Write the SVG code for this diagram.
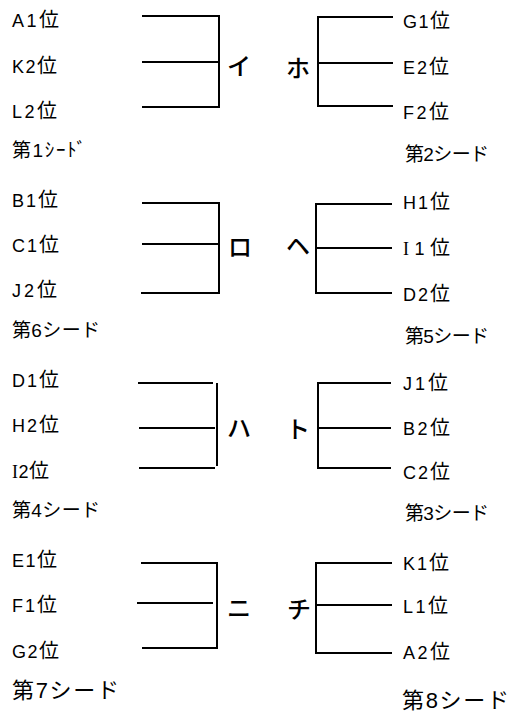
<svg xmlns="http://www.w3.org/2000/svg" width="511" height="718" viewBox="0 0 511 718">
<style>
text{font-family:"Liberation Sans","Noto Sans CJK JP",sans-serif;fill:#000}
.e{font-size:18px}
.k{font-family:"Noto Sans CJK JP",sans-serif;font-size:20px}
.s{font-size:19px}
.big{font-size:22px}
.lab{font-family:"Noto Sans CJK JP",sans-serif;font-size:24px;font-weight:500;text-anchor:middle;dominant-baseline:central}
.serifI{font-family:"Liberation Serif",serif}
#connectors line{stroke:#000;stroke-width:2;stroke-linecap:square}
</style>
<rect width="511" height="718" fill="#fff"/>
<g id="connectors">
<line x1="143" y1="16" x2="219" y2="16"/><line x1="143" y1="62" x2="219" y2="62"/><line x1="143" y1="107" x2="219" y2="107"/><line x1="219" y1="16" x2="219" y2="107"/>
<line x1="143" y1="203" x2="219" y2="203"/><line x1="143" y1="244" x2="219" y2="244"/><line x1="142" y1="293" x2="219" y2="293"/><line x1="219" y1="203" x2="219" y2="293"/>
<line x1="139" y1="383" x2="212" y2="383"/><line x1="140" y1="428" x2="214" y2="428"/><line x1="140" y1="468" x2="214" y2="468"/><line x1="217" y1="384" x2="217" y2="465"/>
<line x1="142" y1="563" x2="217" y2="563"/><line x1="138" y1="603" x2="212" y2="603"/><line x1="143" y1="648" x2="217" y2="648"/><line x1="217" y1="563" x2="217" y2="648"/>
<line x1="318" y1="17" x2="392" y2="17"/><line x1="318" y1="63" x2="392" y2="63"/><line x1="318" y1="106" x2="392" y2="106"/><line x1="318" y1="17" x2="318" y2="106"/>
<line x1="316" y1="204" x2="391" y2="204"/><line x1="316" y1="248" x2="391" y2="248"/><line x1="316" y1="293" x2="391" y2="293"/><line x1="316" y1="204" x2="316" y2="293"/>
<line x1="318" y1="383" x2="390" y2="383"/><line x1="318" y1="428" x2="390" y2="428"/><line x1="318" y1="468" x2="390" y2="468"/><line x1="318" y1="383" x2="318" y2="468"/>
<line x1="316" y1="563" x2="391" y2="563"/><line x1="316" y1="605" x2="391" y2="605"/><line x1="316" y1="653" x2="391" y2="653"/><line x1="316" y1="563" x2="316" y2="653"/>
</g>
<g id="pool-i"><text class="lab" x="239" y="64">イ</text></g>
<g id="pool-ro"><text class="lab" x="240" y="245">ロ</text></g>
<g id="pool-ha"><text class="lab" x="239" y="426">ハ</text></g>
<g id="pool-ni"><text class="lab" x="239" y="606">ニ</text></g>
<g id="pool-ho"><text class="lab" x="298" y="66">ホ</text></g>
<g id="pool-he"><text class="lab" x="298" y="244">ヘ</text></g>
<g id="pool-to"><text class="lab" x="298" y="427">ト</text></g>
<g id="pool-chi"><text class="lab" x="299" y="607">チ</text></g>
<g id="entries-left">
<g id="e-A1"><text class="e" x="12" y="27" textLength="47" lengthAdjust="spacing">A1<tspan class="k">位</tspan></text></g>
<g id="e-K2"><text class="e" x="12" y="73" textLength="45" lengthAdjust="spacing">K2<tspan class="k">位</tspan></text></g>
<g id="e-L2"><text class="e" x="12" y="118" textLength="45" lengthAdjust="spacing">L2<tspan class="k">位</tspan></text></g>
<g id="seed-1"><text class="s" x="12" y="157" textLength="74" lengthAdjust="spacing">第1ｼｰﾄﾞ</text></g>
<g id="e-B1"><text class="e" x="12" y="207" textLength="46" lengthAdjust="spacing">B1<tspan class="k">位</tspan></text></g>
<g id="e-C1"><text class="e" x="12" y="252" textLength="47" lengthAdjust="spacing">C1<tspan class="k">位</tspan></text></g>
<g id="e-J2"><text class="e" x="12" y="297" textLength="45" lengthAdjust="spacing">J2<tspan class="k">位</tspan></text></g>
<g id="seed-6"><text class="s" x="12" y="337" textLength="88" lengthAdjust="spacing">第6シード</text></g>
<g id="e-D1"><text class="e" x="12" y="387" textLength="47" lengthAdjust="spacing">D1<tspan class="k">位</tspan></text></g>
<g id="e-H2"><text class="e" x="12" y="432" textLength="47" lengthAdjust="spacing">H2<tspan class="k">位</tspan></text></g>
<g id="e-I2"><text class="e" x="12" y="478" textLength="37" lengthAdjust="spacing"><tspan class="serifI">I</tspan>2<tspan class="k">位</tspan></text></g>
<g id="seed-4"><text class="s" x="12" y="517" textLength="88" lengthAdjust="spacing">第4シード</text></g>
<g id="e-E1"><text class="e" x="12" y="567" textLength="45" lengthAdjust="spacing">E1<tspan class="k">位</tspan></text></g>
<g id="e-F1"><text class="e" x="12" y="612" textLength="45" lengthAdjust="spacing">F1<tspan class="k">位</tspan></text></g>
<g id="e-G2"><text class="e" x="12" y="658" textLength="47" lengthAdjust="spacing">G2<tspan class="k">位</tspan></text></g>
<g id="seed-7"><text class="big" x="12" y="698" textLength="107" lengthAdjust="spacing">第7シード</text></g>
</g>
<g id="entries-right">
<g id="e-G1"><text class="e" x="403" y="28" textLength="47" lengthAdjust="spacing">G1<tspan class="k">位</tspan></text></g>
<g id="e-E2"><text class="e" x="403" y="74" textLength="46" lengthAdjust="spacing">E2<tspan class="k">位</tspan></text></g>
<g id="e-F2"><text class="e" x="403" y="119" textLength="46" lengthAdjust="spacing">F2<tspan class="k">位</tspan></text></g>
<g id="seed-2"><text class="s" x="405" y="161" textLength="84" lengthAdjust="spacing">第2シード</text></g>
<g id="e-H1"><text class="e" x="403" y="209" textLength="47" lengthAdjust="spacing">H1<tspan class="k">位</tspan></text></g>
<g id="e-I1"><text class="e" x="403" y="255" textLength="47" lengthAdjust="spacing"><tspan class="serifI">I</tspan>1<tspan class="k">位</tspan></text></g>
<g id="e-D2"><text class="e" x="403" y="301" textLength="47" lengthAdjust="spacing">D2<tspan class="k">位</tspan></text></g>
<g id="seed-5"><text class="s" x="405" y="343" textLength="84" lengthAdjust="spacing">第5シード</text></g>
<g id="e-J1"><text class="e" x="403" y="390" textLength="45" lengthAdjust="spacing">J1<tspan class="k">位</tspan></text></g>
<g id="e-B2"><text class="e" x="403" y="435" textLength="47" lengthAdjust="spacing">B2<tspan class="k">位</tspan></text></g>
<g id="e-C2"><text class="e" x="403" y="479" textLength="47" lengthAdjust="spacing">C2<tspan class="k">位</tspan></text></g>
<g id="seed-3"><text class="s" x="405" y="520" textLength="84" lengthAdjust="spacing">第3シード</text></g>
<g id="e-K1"><text class="e" x="403" y="570" textLength="46" lengthAdjust="spacing">K1<tspan class="k">位</tspan></text></g>
<g id="e-L1"><text class="e" x="403" y="613" textLength="45" lengthAdjust="spacing">L1<tspan class="k">位</tspan></text></g>
<g id="e-A2"><text class="e" x="403" y="659" textLength="47" lengthAdjust="spacing">A2<tspan class="k">位</tspan></text></g>
<g id="seed-8"><text class="big" x="402" y="708" textLength="107" lengthAdjust="spacing">第8シード</text></g>
</g>
</svg>
